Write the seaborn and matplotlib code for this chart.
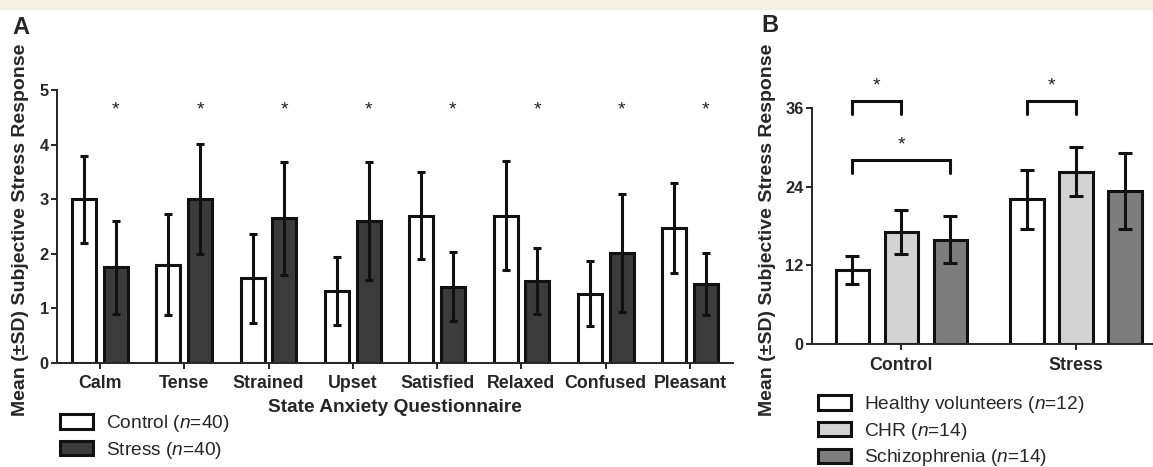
import numpy as np
import pandas as pd
import matplotlib
matplotlib.use("Agg")
import matplotlib.pyplot as plt
import seaborn as sns
from matplotlib.patches import Patch, Rectangle

# ---------------- data ----------------
items = ["Calm", "Tense", "Strained", "Upset", "Satisfied", "Relaxed", "Confused", "Pleasant"]
cond_a = ["Control", "Stress"]
cond_a_labels = ["Control ($\\mathit{n}$=40)", "Stress ($\\mathit{n}$=40)"]
control_mean = [3.0, 1.8, 1.55, 1.32, 2.7, 2.7, 1.27, 2.47]
control_sd = [0.8, 0.92, 0.82, 0.62, 0.8, 1.0, 0.6, 0.82]
stress_mean = [1.75, 3.0, 2.65, 2.6, 1.4, 1.5, 2.02, 1.45]
stress_sd = [0.85, 1.01, 1.03, 1.08, 0.63, 0.6, 1.08, 0.57]
star_level_a = 4.63

sessions = ["Control", "Stress"]
groups_b = ["Healthy volunteers", "CHR", "Schizophrenia"]
groups_b_labels = ["Healthy volunteers ($\\mathit{n}$=12)", "CHR ($\\mathit{n}$=14)",
                   "Schizophrenia ($\\mathit{n}$=14)"]
hv_mean = [11.3, 22.1]
hv_sd = [2.1, 4.5]
chr_mean = [17.1, 26.3]
chr_sd = [3.3, 3.7]
sz_mean = [15.9, 23.4]
sz_sd = [3.6, 5.8]
# brackets: (session index, group i, group j, level)
brackets_b = [(0, 0, 1, 37.1), (0, 0, 2, 28.1), (1, 0, 1, 37.1)]

# ---------------- style ----------------
sns.set_style("ticks")
plt.rcParams["font.family"] = ["Liberation Sans", "DejaVu Sans"]
plt.rcParams["mathtext.fontset"] = "custom"
plt.rcParams["mathtext.rm"] = "Liberation Sans"
plt.rcParams["mathtext.it"] = "Liberation Sans:italic"
plt.rcParams["axes.linewidth"] = 1.4
plt.rcParams["xtick.major.width"] = 1.4
plt.rcParams["ytick.major.width"] = 1.4
plt.rcParams["xtick.major.size"] = 4
plt.rcParams["ytick.major.size"] = 4

EDGE = "#111111"
LW = 2.2
fig = plt.figure(figsize=(11.53, 4.67), dpi=100)
fig.add_artist(Rectangle((0, 1 - 10 / 467), 1, 10 / 467, transform=fig.transFigure,
                         facecolor="#f4f0e2", edgecolor="none", zorder=-5))

# ---------------- panel A ----------------
dfa = pd.DataFrame({
    "item": items * 2,
    "cond": [cond_a[0]] * len(items) + [cond_a[1]] * len(items),
    "mean": control_mean + stress_mean,
})
axA = fig.add_axes([57 / 1153, 1 - 363 / 467, (733 - 57) / 1153, (363 - 90) / 467])
sns.barplot(data=dfa, x="item", y="mean", hue="cond", order=items, hue_order=cond_a,
            palette={"Control": "white", "Stress": "#3b3b3b"}, errorbar=None,
            width=0.75, gap=0.24, edgecolor=EDGE, linewidth=LW, legend=False, ax=axA)
sds_a = [control_sd, stress_sd]
for cont, means, sds in zip(axA.containers, [control_mean, stress_mean], sds_a):
    xs = [p.get_x() + p.get_width() / 2 for p in cont]
    axA.errorbar(xs, means, yerr=sds, fmt="none", ecolor=EDGE, elinewidth=LW,
                 capsize=3, capthick=LW, zorder=5)
# significance stars above stress bars
for p in axA.containers[1]:
    axA.text(p.get_x() + p.get_width() / 2, star_level_a, "*", ha="center", va="center",
             fontsize=14, color="#222222")
axA.set_xlim(-0.51, len(items) - 0.49)
axA.set_ylim(0, 5)
axA.set_yticks(range(0, 6))
axA.tick_params(axis="x", labelsize=12.8, pad=5)
axA.tick_params(axis="y", labelsize=11.8, pad=2)
for t in axA.get_xticklabels() + axA.get_yticklabels():
    t.set_fontweight("bold")
axA.set_xlabel("State Anxiety Questionnaire", fontsize=13.8, fontweight="bold", labelpad=5)
axA.set_ylabel("")
sns.despine(ax=axA)
fig.text(21 / 1153, 1 - 230 / 467, "Mean (±SD) Subjective Stress Response", rotation=90,
         ha="center", va="center", fontsize=14, fontweight="bold")
fig.text(12 / 1153, 1 - 28 / 467, "A", fontsize=17, fontweight="bold", ha="left", va="center")
legA = fig.legend(handles=[Patch(facecolor="white", edgecolor=EDGE, linewidth=LW),
                           Patch(facecolor="#3b3b3b", edgecolor=EDGE, linewidth=LW)],
                  labels=cond_a_labels, loc="upper left",
                  bbox_to_anchor=(60 / 1153, 1 - 413 / 467), frameon=False, fontsize=13.8,
                  handlelength=1.7, handleheight=0.8, labelspacing=0.3, handletextpad=0.7,
                  borderaxespad=0, borderpad=0)

# ---------------- panel B ----------------
dfb = pd.DataFrame({
    "session": sessions * 3,
    "group": [groups_b[0]] * 2 + [groups_b[1]] * 2 + [groups_b[2]] * 2,
    "mean": hv_mean + chr_mean + sz_mean,
})
colors_b = {"Healthy volunteers": "white", "CHR": "#d3d3d3", "Schizophrenia": "#7d7d7d"}
axB = fig.add_axes([812 / 1153, 1 - 344 / 467, (1153 - 812) / 1153, (344 - 108) / 467])
sns.barplot(data=dfb, x="session", y="mean", hue="group", order=sessions, hue_order=groups_b,
            palette=colors_b, errorbar=None, width=0.84, gap=0.32, edgecolor=EDGE,
            linewidth=LW, legend=False, ax=axB)
means_b = [hv_mean, chr_mean, sz_mean]
sds_b = [hv_sd, chr_sd, sz_sd]
centers_b = []
for cont, means, sds in zip(axB.containers, means_b, sds_b):
    xs = [p.get_x() + p.get_width() / 2 for p in cont]
    centers_b.append(xs)
    axB.errorbar(xs, means, yerr=sds, fmt="none", ecolor=EDGE, elinewidth=LW,
                 capsize=5, capthick=LW, zorder=5)
for s, gi, gj, lvl in brackets_b:
    x1, x2 = centers_b[gi][s], centers_b[gj][s]
    axB.plot([x1, x1, x2, x2], [lvl - 2.0, lvl, lvl, lvl - 2.0], color=EDGE, lw=LW,
             clip_on=False, solid_joinstyle="miter")
    axB.text((x1 + x2) / 2, lvl + 2.2, "*", ha="center", va="center", fontsize=14,
             color="#222222", clip_on=False)
axB.set_xlim(-0.51, 1.44)
axB.set_ylim(0, 36)
axB.set_yticks([0, 12, 24, 36])
axB.tick_params(axis="x", labelsize=12.8, pad=5)
axB.tick_params(axis="y", labelsize=11.8, pad=2)
for t in axB.get_xticklabels() + axB.get_yticklabels():
    t.set_fontweight("bold")
axB.set_xlabel("")
axB.set_ylabel("")
sns.despine(ax=axB)
fig.text(767 / 1153, 1 - 230 / 467, "Mean (±SD) Subjective Stress Response", rotation=90,
         ha="center", va="center", fontsize=14, fontweight="bold")
fig.text(761 / 1153, 1 - 26 / 467, "B", fontsize=17, fontweight="bold", ha="left", va="center")
legB = fig.legend(handles=[Patch(facecolor=colors_b[g], edgecolor=EDGE, linewidth=LW)
                           for g in groups_b],
                  labels=groups_b_labels, loc="upper left",
                  bbox_to_anchor=(818 / 1153, 1 - 394 / 467), frameon=False, fontsize=13.8,
                  handlelength=1.7, handleheight=0.8, labelspacing=0.3, handletextpad=0.7,
                  borderaxespad=0, borderpad=0)

fig.savefig("out.png", dpi=100)
